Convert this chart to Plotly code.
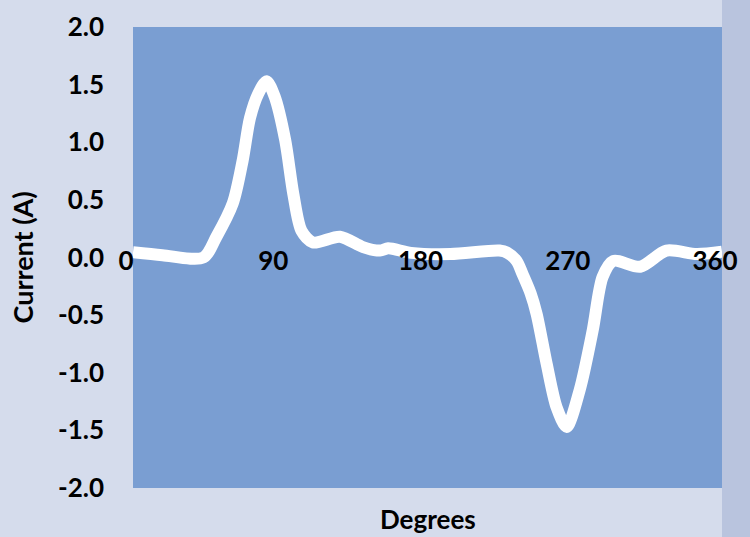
import plotly.graph_objects as go

# Data
degrees = [0, 18, 43, 51, 61, 67, 71.5, 76.5, 81.7, 86.5, 93, 98, 103, 110, 126.5, 140.6,
           151, 156, 170, 194, 224, 229, 234.5, 238, 243, 246.7, 252.8, 258.9, 265, 273,
           281, 287, 293.5, 310, 326, 344.5, 360]
current = [0.045, 0.02, 0.0, 0.18, 0.47, 0.84, 1.21, 1.42, 1.53, 1.40, 1.02, 0.55, 0.23, 0.13, 0.18, 0.09,
           0.06, 0.08, 0.04, 0.03, 0.06, 0.04, -0.03, -0.14, -0.31, -0.49, -0.92, -1.30, -1.47, -1.15,
           -0.63, -0.17, -0.03, -0.08, 0.06, 0.03, 0.05]

x_ticks = [0, 90, 180, 270, 360]
x_tick_labels = ["0", "90", "180", "270", "360"]
y_ticks = [2.0, 1.5, 1.0, 0.5, 0.0, -0.5, -1.0, -1.5, -2.0]
y_tick_labels = ["2.0", "1.5", "1.0", "0.5", "0.0", "-0.5", "-1.0", "-1.5", "-2.0"]

FONT = "Lato"

fig = go.Figure()
fig.add_trace(go.Scatter(
    x=degrees, y=current, mode="lines",
    line=dict(color="white", width=12, shape="spline", smoothing=0.8),
    hoverinfo="skip", showlegend=False, cliponaxis=False,
))

fig.update_layout(
    width=750, height=537,
    margin=dict(l=133, r=28, t=27, b=49, autoexpand=False),
    paper_bgcolor="#d5dcec",
    plot_bgcolor="#7a9ed2",
    font=dict(family=FONT, color="black"),
    xaxis=dict(
        range=[0, 360], tickvals=x_ticks, ticktext=x_tick_labels,
        showgrid=False, zeroline=False, showline=False, automargin=False,
        anchor="free", position=0.5, ticks="",
        tickfont=dict(family=FONT, size=26, color="black", weight="bold"),
        ticklabelstandoff=-15, ticklabelshift=-7,
    ),
    yaxis=dict(
        range=[-2, 2], tickvals=y_ticks, ticktext=y_tick_labels,
        showgrid=False, zeroline=False, showline=False, ticks="", automargin=False,
        tickfont=dict(family=FONT, size=26, color="black", weight="bold"),
        ticklabelstandoff=28,
    ),
    annotations=[
        dict(text="Degrees", xref="paper", yref="paper", x=0.5, y=0, yanchor="top",
             yshift=-13, showarrow=False,
             font=dict(family=FONT, size=26, color="black", weight="bold")),
        dict(text="Current (A)", xref="paper", yref="paper", x=0, y=0.5, xanchor="center",
             yanchor="middle", xshift=-111, textangle=-90, showarrow=False,
             font=dict(family=FONT, size=27, color="black", weight="bold")),
    ],
    shapes=[
        dict(type="rect", xref="paper", yref="paper", x0=1.0, x1=1.06, y0=-0.12, y1=1.08,
             fillcolor="#b9c4de", line_width=0, layer="below"),
    ],
)

fig.write_html("out.html", config={"displayModeBar": False},
               post_script="document.body.style.margin='0';document.body.style.overflow='hidden';")
